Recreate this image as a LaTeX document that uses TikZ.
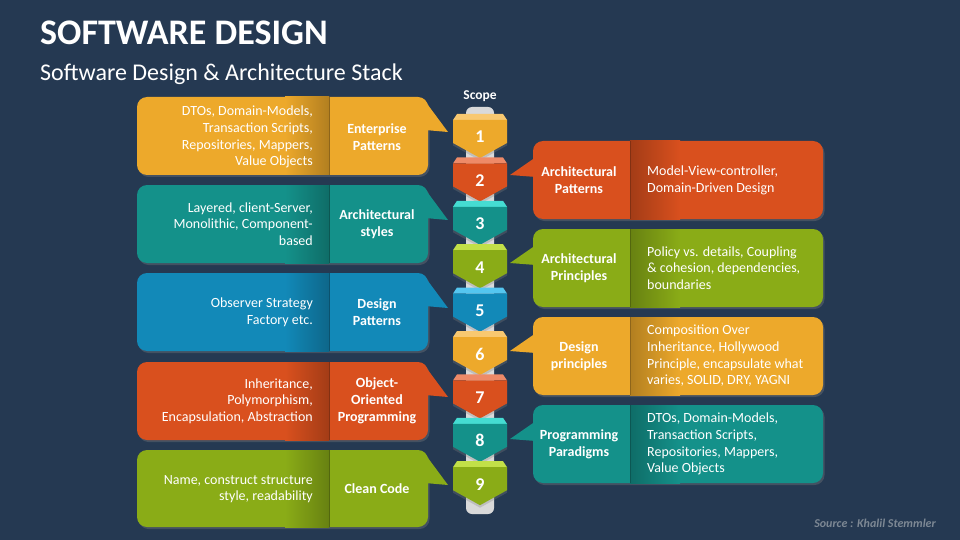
\documentclass[tikz,border=0pt]{standalone}
\usepackage{fontspec}
\setmainfont{Carlito}
\usetikzlibrary{shadows}
\definecolor{bgnavy}{HTML}{253952}
\definecolor{cyel}{HTML}{EDA92B}
\definecolor{cred}{HTML}{D9501E}
\definecolor{cteal}{HTML}{14918A}
\definecolor{cgreen}{HTML}{8AAC17}
\definecolor{cblue}{HTML}{1289B8}
\definecolor{lyel}{HTML}{F8C870}
\definecolor{lred}{HTML}{EE8A68}
\definecolor{lteal}{HTML}{45DCD2}
\definecolor{lgreen}{HTML}{C2E048}
\definecolor{lblue}{HTML}{55C6F0}
\definecolor{polegray}{HTML}{D9D9D9}
\definecolor{srcgray}{HTML}{7D8894}
\begin{document}
\begin{tikzpicture}[x=1pt,y=-1pt,
  box/.style={rounded corners=10pt,drop shadow={opacity=0.35,shadow xshift=1.5pt,shadow yshift=-2pt}},
  body text/.style={text=white,font=\fontsize{14}{16.7}\selectfont,inner sep=0pt},
  label text/.style={text=white,font=\fontsize{14}{17}\selectfont\bfseries,align=center,inner sep=0pt},
  num/.style={text=white,font=\fontsize{18}{20}\selectfont\bfseries,inner sep=0pt},
  divider/.style={line width=0.8pt}]
  \useasboundingbox (0,0) rectangle (960,540);
  \fill[bgnavy] (0,0) rectangle (960,540);

  \node[anchor=base west,inner sep=0pt,text=white,font=\fontsize{36}{40}\selectfont\bfseries] (title) at (40,45) {SOFTWARE DESIGN};
  \node[anchor=base west,inner sep=0pt,text=white,font=\fontsize{24}{28}\selectfont] (subtitle) at (40,81) {Software Design \& Architecture Stack};

  % left side
  \fill[cyel,box] (137,97) rectangle (428,175);
  \fill[cyel] (425,101) -- (448,132) -- (425,130) -- cycle;
  \shade[left color=cyel,right color=cyel!75!black] (285,97) rectangle (329,175);
  \draw[divider,cyel!60!black] (329,97) -- (329,175);
  \node[body text,align=right,anchor=east] (l1) at (313,137) {DTOs, Domain-Models,\\Transaction Scripts,\\Repositories, Mappers,\\Value Objects};
  \node[label text] (l1lab) at (377,137) {Enterprise\\Patterns};

  \fill[cteal,box] (137,185) rectangle (428,263);
  \fill[cteal] (425,189) -- (448,220) -- (425,218) -- cycle;
  \shade[left color=cteal,right color=cteal!75!black] (285,185) rectangle (329,263);
  \draw[divider,cteal!60!black] (329,185) -- (329,263);
  \node[body text,align=right,anchor=east] (l2) at (313,224) {Layered, client-Server,\\Monolithic, Component-\\based};
  \node[label text] (l2lab) at (377,224) {Architectural\\styles};

  \fill[cblue,box] (137,273) rectangle (428,351);
  \fill[cblue] (425,277) -- (448,308) -- (425,306) -- cycle;
  \shade[left color=cblue,right color=cblue!75!black] (285,273) rectangle (329,351);
  \draw[divider,cblue!60!black] (329,273) -- (329,351);
  \node[body text,align=right,anchor=east] (l3) at (313,312) {Observer Strategy\\Factory etc.};
  \node[label text] (l3lab) at (377,312) {Design\\Patterns};

  \fill[cred,box] (137,362) rectangle (428,440);
  \fill[cred] (425,366) -- (448,397) -- (425,395) -- cycle;
  \shade[left color=cred,right color=cred!75!black] (285,362) rectangle (329,440);
  \draw[divider,cred!60!black] (329,362) -- (329,440);
  \node[body text,align=right,anchor=east] (l4) at (313,401) {Inheritance,\\Polymorphism,\\Encapsulation, Abstraction};
  \node[label text] (l4lab) at (377,401) {Object-\\Oriented\\Programming};

  \fill[cgreen,box] (137,450) rectangle (428,527);
  \fill[cgreen] (425,454) -- (448,485) -- (425,483) -- cycle;
  \shade[left color=cgreen,right color=cgreen!75!black] (285,450) rectangle (329,527);
  \draw[divider,cgreen!60!black] (329,450) -- (329,527);
  \node[body text,align=right,anchor=east] (l5) at (313,489) {Name, construct structure\\style, readability};
  \node[label text] (l5lab) at (377,489) {Clean Code};

  % right side
  \fill[cred,box] (533,141) rectangle (823,219);
  \fill[cred] (536,157) -- (510,175) -- (536,177) -- cycle;
  \shade[left color=cred!75!black,right color=cred] (630,141) rectangle (680,219);
  \draw[divider,cred!60!black] (630,141) -- (630,219);
  \node[body text,align=left,anchor=west] (r1) at (647,180) {Model-View-controller,\\Domain-Driven Design};
  \node[label text] (r1lab) at (579,180) {Architectural\\Patterns};

  \fill[cgreen,box] (533,229) rectangle (823,307);
  \fill[cgreen] (536,245) -- (510,263) -- (536,265) -- cycle;
  \shade[left color=cgreen!75!black,right color=cgreen] (630,229) rectangle (680,307);
  \draw[divider,cgreen!60!black] (630,229) -- (630,307);
  \node[body text,align=left,anchor=west] (r2) at (647,268) {Policy vs. details, Coupling\\\& cohesion, dependencies,\\boundaries};
  \node[label text] (r2lab) at (579,268) {Architectural\\Principles};

  \fill[cyel,box] (533,317) rectangle (823,395);
  \fill[cyel] (536,333) -- (510,351) -- (536,353) -- cycle;
  \shade[left color=cyel!75!black,right color=cyel] (630,317) rectangle (680,395);
  \draw[divider,cyel!60!black] (630,317) -- (630,395);
  \node[body text,align=left,anchor=west] (r3) at (647,356) {Composition Over\\Inheritance, Hollywood\\Principle, encapsulate what\\varies, SOLID, DRY, YAGNI};
  \node[label text] (r3lab) at (579,356) {Design\\principles};

  \fill[cteal,box] (533,405) rectangle (823,483);
  \fill[cteal] (536,421) -- (510,439) -- (536,441) -- cycle;
  \shade[left color=cteal!75!black,right color=cteal] (630,405) rectangle (680,483);
  \draw[divider,cteal!60!black] (630,405) -- (630,483);
  \node[body text,align=left,anchor=west] (r4) at (647,444) {DTOs, Domain-Models,\\Transaction Scripts,\\Repositories, Mappers,\\Value Objects};
  \node[label text] (r4lab) at (579,444) {Programming\\Paradigms};

  % scope stack
  \node[text=white,font=\fontsize{13.5}{15}\selectfont\bfseries] (scope) at (480,96) {Scope};
  \fill[polegray,rounded corners=6pt] (466,107) rectangle (494,514);
  \foreach \n/\c/\l in {1/cyel/lyel,2/cred/lred,3/cteal/lteal,4/cgreen/lgreen,5/cblue/lblue,6/cyel/lyel,7/cred/lred,8/cteal/lteal,9/cgreen/lgreen} {
    \pgfmathsetmacro{\cy}{137+43.4*(\n-1)}
    \fill[\l] (457,\cy-23) -- (503,\cy-23) -- (507,\cy-17) -- (453,\cy-17) -- cycle;
    \fill[\c,drop shadow={opacity=0.3,shadow xshift=0pt,shadow yshift=-2.5pt}] (453,\cy-17) -- (507,\cy-17) -- (507,\cy+6) -- (480,\cy+21) -- (453,\cy+6) -- cycle;
    \node[num] (b\n) at (480,\cy) {\n};
  }

  \node[anchor=base east,inner sep=0pt,text=srcgray,font=\fontsize{12}{14}\selectfont\bfseries\itshape] (source) at (936,527) {Source : Khalil Stemmler};
\end{tikzpicture}
\end{document}
